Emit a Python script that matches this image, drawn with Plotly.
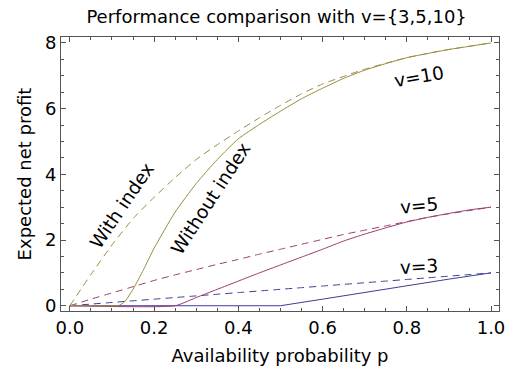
import plotly.graph_objects as go

# ---- data ----
p_grid = [0.0, 0.05, 0.1, 0.15, 0.2, 0.25, 0.3, 0.35, 0.4, 0.45, 0.5,
          0.55, 0.6, 0.65, 0.7, 0.75, 0.8, 0.85, 0.9, 0.95, 1.0]

v10_with = [0.0, 0.95, 1.85, 2.65, 3.3, 3.9, 4.45, 4.9, 5.32, 5.72, 6.1,
            6.45, 6.75, 6.98, 7.2, 7.38, 7.55, 7.68, 7.8, 7.9, 8.0]
v10_without_p = [0.0, 0.05, 0.1, 0.115, 0.13, 0.15, 0.175, 0.2, 0.25, 0.3, 0.35,
                 0.4, 0.45, 0.5, 0.55, 0.6, 0.65, 0.7, 0.75, 0.8, 0.85, 0.9, 0.95, 1.0]
v10_without = [0.0, 0.0, 0.0, 0.0, 0.12, 0.5, 1.1, 1.75, 2.85, 3.72, 4.45,
               5.08, 5.52, 5.92, 6.3, 6.62, 6.92, 7.17, 7.37, 7.55, 7.68, 7.8, 7.9, 8.0]

v5_with = [0.0, 0.2, 0.39, 0.58, 0.77, 0.94, 1.1, 1.26, 1.41, 1.57, 1.72,
           1.87, 2.02, 2.17, 2.3, 2.43, 2.56, 2.69, 2.8, 2.9, 3.0]
v5_without_p = [0.0, 0.25, 0.3, 0.35, 0.4, 0.45, 0.5, 0.55, 0.6, 0.65, 0.7,
                0.75, 0.8, 0.85, 0.9, 0.95, 1.0]
v5_without = [0.0, 0.0, 0.25, 0.5, 0.75, 1.0, 1.24, 1.48, 1.72, 1.97, 2.18,
              2.37, 2.55, 2.69, 2.81, 2.92, 3.0]

v3_with = [0.0, 0.05, 0.1, 0.15, 0.2, 0.25, 0.3, 0.35, 0.4, 0.45, 0.5,
           0.55, 0.6, 0.65, 0.7, 0.75, 0.8, 0.85, 0.9, 0.95, 1.0]
v3_without_p = [0.0, 0.5, 0.6, 0.7, 0.8, 0.9, 1.0]
v3_without = [0.0, 0.0, 0.2, 0.41, 0.61, 0.81, 1.0]

x_ticks = [0.0, 0.2, 0.4, 0.6, 0.8, 1.0]
y_ticks = [0, 2, 4, 6, 8]

c3 = "#3d3d99"
c5 = "#993d71"
c10 = "#998d3d"
FONT = "DejaVu Sans, Liberation Sans, Arial, sans-serif"
dash = "7px,5px"

fig = go.Figure()
series = [
    (p_grid, v3_with, c3, dash, "spline"), (v3_without_p, v3_without, c3, "solid", "linear"),
    (p_grid, v5_with, c5, dash, "spline"), (v5_without_p, v5_without, c5, "solid", "spline"),
    (p_grid, v10_with, c10, dash, "spline"), (v10_without_p, v10_without, c10, "solid", "spline"),
]
for xs, ys, col, d, shp in series:
    fig.add_trace(go.Scatter(x=xs, y=ys, mode="lines",
                             line=dict(color=col, width=1, dash=d, shape=shp,
                                       **({"smoothing": 0.5} if shp == "spline" else {})),
                             showlegend=False, hoverinfo="skip"))

annos = [
    ("With index", 0.124, 3.04, -56),
    ("Without index", 0.334, 3.27, -57),
    ("v=10", 0.83, 6.98, -10),
    ("v=5", 0.83, 3.05, -5),
    ("v=3", 0.83, 1.18, -3),
]
for t, x, y, a in annos:
    fig.add_annotation(x=x, y=y, text=t, textangle=a, showarrow=False,
                       font=dict(size=18.5, color="black", family=FONT))

axis_common = dict(showline=True, mirror="ticks", linecolor="#555", linewidth=1,
                   ticks="inside", ticklen=5, tickcolor="#555", showgrid=False, zeroline=False,
                   tickfont=dict(size=18, color="black", family=FONT))
fig.update_xaxes(range=[-0.021, 1.019], tickvals=x_ticks, tickformat=".1f",
                 minor=dict(ticks="inside", ticklen=3, dtick=0.05, tick0=0, tickcolor="#555"),
                 title=dict(text="Availability probability p", font=dict(size=18, family=FONT, color="black"), standoff=12),
                 **axis_common)
fig.update_yaxes(range=[-0.16, 8.18], tickvals=y_ticks,
                 minor=dict(ticks="inside", ticklen=3, dtick=0.5, tick0=0, tickcolor="#555"),
                 title=dict(text="Expected net profit", font=dict(size=18, family=FONT, color="black"), standoff=8),
                 **axis_common)
fig.update_layout(
    width=517, height=377,
    margin=dict(l=61, r=13, t=37, b=66),
    paper_bgcolor="white", plot_bgcolor="white",
    title=dict(text="Performance comparison with v={3,5,10}", x=0.535, xanchor="center", y=0.955, yanchor="middle",
               font=dict(size=18, family=FONT, color="black")),
)
fig.write_html("out.html", config={"displayModeBar": False},
               post_script="document.body.style.margin='0';")
